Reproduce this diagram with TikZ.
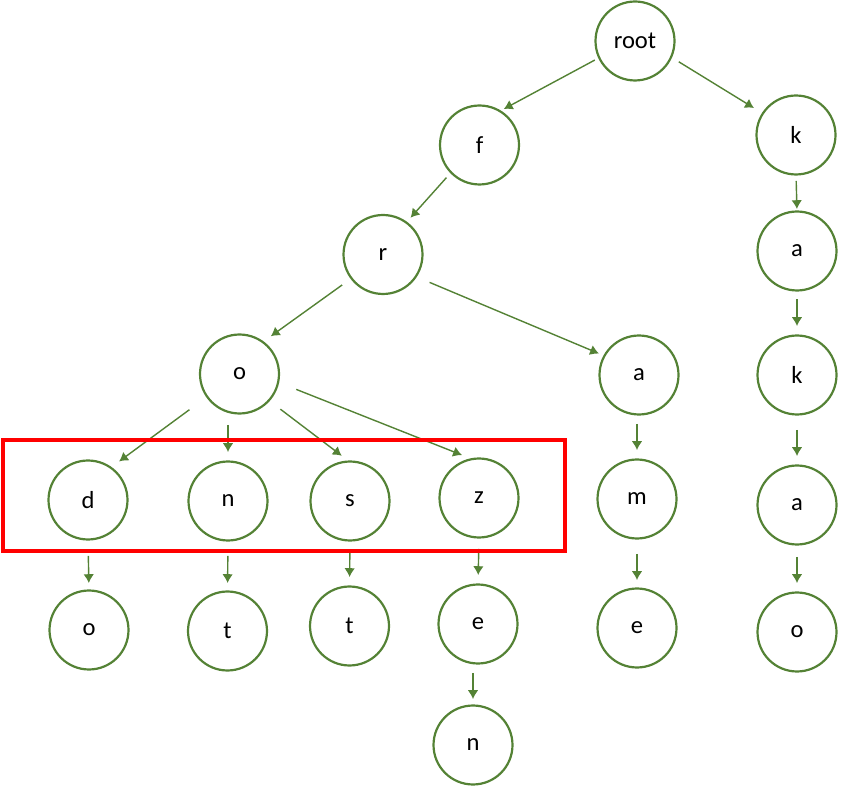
\documentclass[tikz,border=0pt]{standalone}
\usepackage{fontspec}
\setmainfont{Carlito}
\usetikzlibrary{arrows.meta}

\definecolor{triegreen}{RGB}{84,130,53}

\tikzset{
    letter/.style={circle, draw=triegreen, line width=1.25pt, minimum size=1.58cm,
        inner sep=0pt, outer sep=0pt, font=\fontsize{14}{16}\selectfont},
    link/.style={draw=triegreen, line width=0.8pt, -{Latex[length=5pt,width=6pt]},
        shorten <=0.24cm, shorten >=0.18cm},
}

\begin{document}
\begin{tikzpicture}[x=0.02cm, y=-0.02cm]
    \useasboundingbox (0,0) rectangle (841,786);

    % Nodes, named after the prefix they stand for
    \node[letter] (root)   at (635,41)    {root};
    \node[letter] (f)      at (479.5,145) {f};
    \node[letter] (fr)     at (383,254.5) {r};
    \node[letter] (fro)    at (239.5,374) {o};
    \node[letter] (fra)    at (639,375)   {a};
    \node[letter] (frod)   at (88,500)    {d};
    \node[letter] (fron)   at (228,501)   {n};
    \node[letter] (fros)   at (350,501)   {s};
    \node[letter] (froz)   at (479,498)   {z};
    \node[letter] (fram)   at (637,499)   {m};
    \node[letter] (frodo)  at (89,630)    {o};
    \node[letter] (front)  at (227.5,631) {t};
    \node[letter] (frost)  at (349.5,626) {t};
    \node[letter] (froze)  at (478,624)   {e};
    \node[letter] (frozen) at (473,745)   {n};
    \node[letter] (frame)  at (637,628)   {e};
    \node[letter] (k)      at (796,135)   {k};
    \node[letter] (ka)     at (797,251)   {a};
    \node[letter] (kak)    at (797,375)   {k};
    \node[letter] (kaka)   at (797,505)   {a};
    \node[letter] (kakao)  at (797,632)   {o};

    % Slanted links
    \draw[link, shorten <=0.10cm, shorten >=0.09cm] (root.205) -- (f.59);
    \draw[link, shorten <=0.18cm, shorten >=0.21cm] (root.-24) -- (k.147);
    \draw[link, shorten <=0.14cm, shorten >=0.13cm] (f.224) -- (fr.54);
    \draw[link, shorten <=0.23cm, shorten >=0.20cm] (fr.217) -- (fro.54);
    \draw[link, shorten <=0.30cm, shorten >=0.12cm] (fr.-34) -- (fra.151);
    \draw[link, shorten <=0.44cm, shorten >=0.21cm] (fro.215) -- (frod.55);
    \draw[link, shorten <=0.29cm, shorten >=0.19cm] (fro.-42) -- (fros.91);
    \draw[link, shorten <=0.39cm, shorten >=0.22cm] (fro.-12) -- (froz.100);

    % Straight down links
    \draw[link, shorten <=0.23cm, shorten >=0.19cm] (fro.south -| fron.north) -- (fron.north);
    \draw[link, shorten <=0.19cm, shorten >=0.19cm] (fra.south -| fram.north) -- (fram.north);
    \draw[link, shorten <=0.31cm, shorten >=0.17cm] (fram.south) -- (frame.north);
    \draw[link, shorten <=0.33cm, shorten >=0.15cm] (frod.south) -- (frodo.north);
    \draw[link, shorten <=0.31cm, shorten >=0.17cm] (fron.south) -- (front.north);
    \draw[link, shorten <=0.25cm, shorten >=0.19cm] (fros.south) -- (frost.north);
    \draw[link, shorten <=0.23cm, shorten >=0.19cm] (froz.south) -- (froze.north);
    \draw[link, shorten <=0.19cm, shorten >=0.13cm] (froze.south -| frozen.north) -- (frozen.north);
    \draw[link, shorten <=0.13cm, shorten >=0.05cm] (k.south) -- (ka.north);
    \draw[link, shorten <=0.18cm, shorten >=0.19cm] (ka.south) -- (kak.north);
    \draw[link, shorten <=0.31cm, shorten >=0.19cm] (kak.south) -- (kaka.north);
    \draw[link, shorten <=0.25cm, shorten >=0.19cm] (kaka.south) -- (kakao.north);

    % Highlight box round the o children
    \draw[red, line width=1.8pt] (3,440) rectangle (565,551);
\end{tikzpicture}
\end{document}
